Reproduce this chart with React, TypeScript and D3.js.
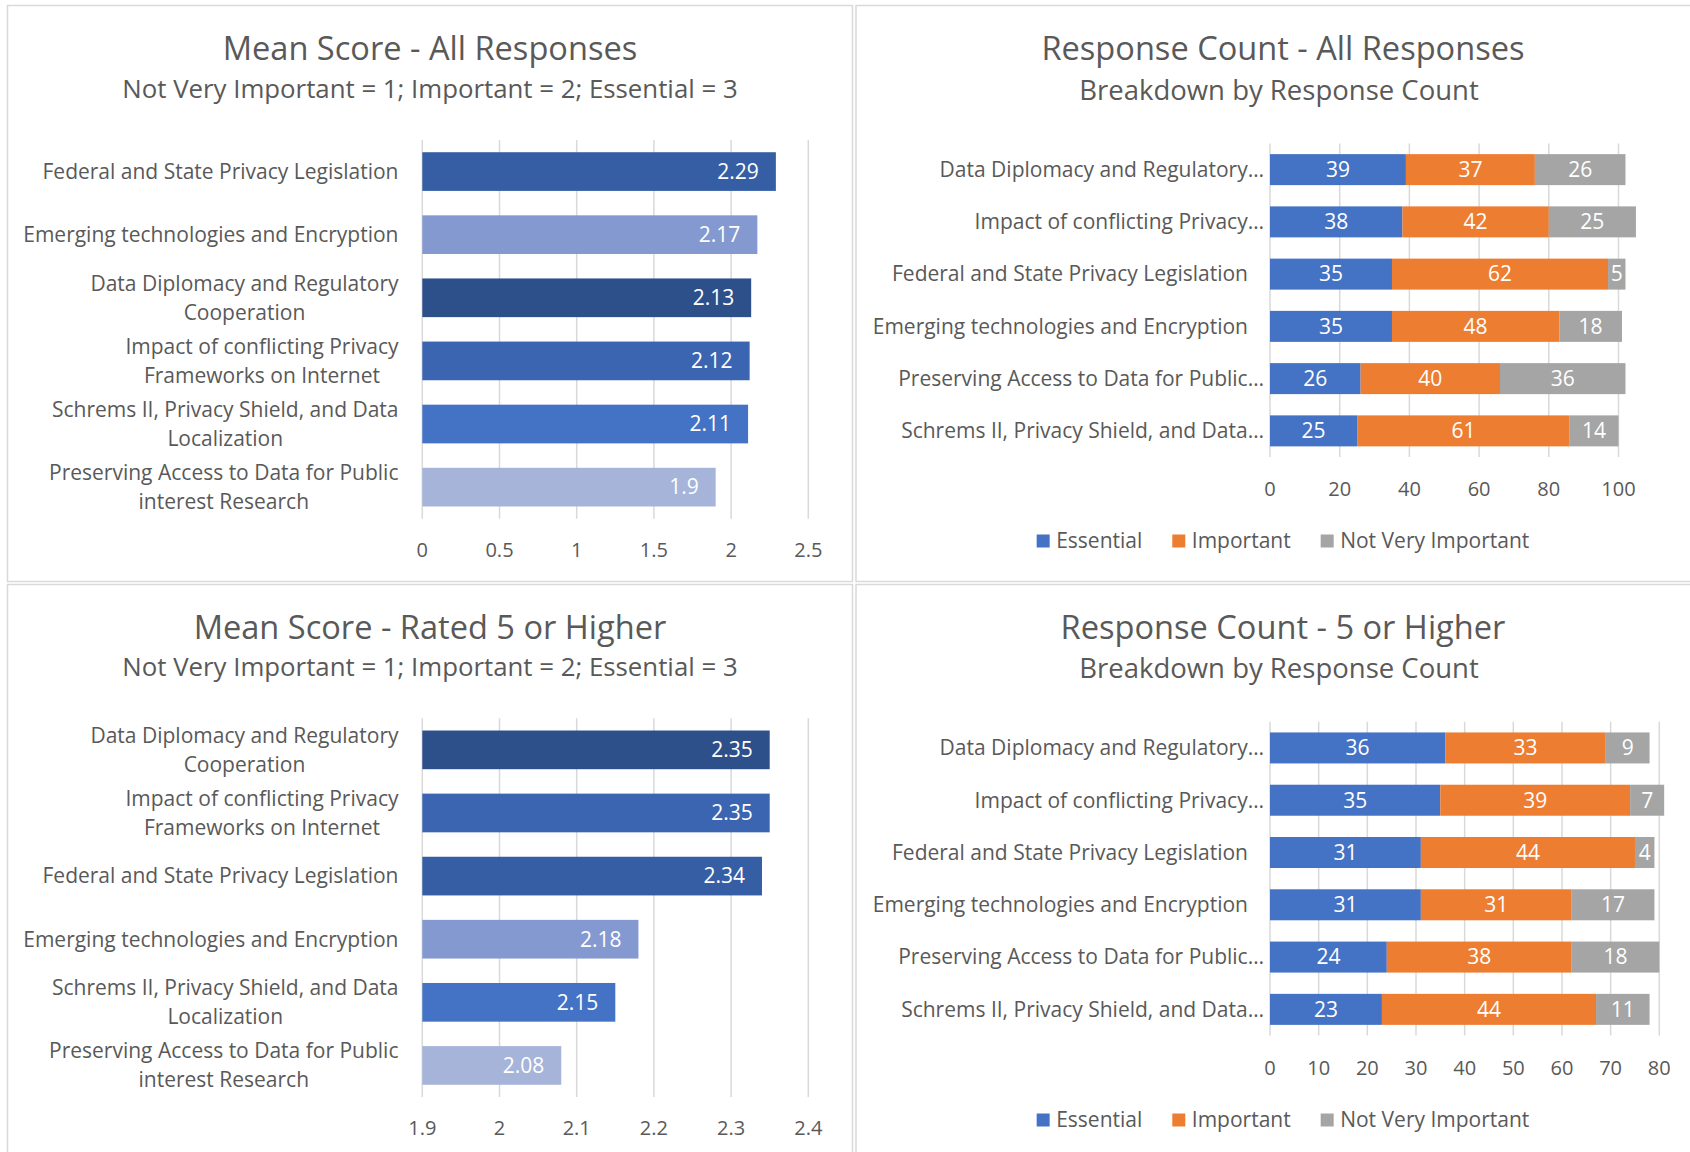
import React, { useEffect, useRef } from "react";
import * as d3 from "d3";

// ---------- DATA ----------
const meanAllCategories: string[][] = [
  ["Federal and State Privacy Legislation"],
  ["Emerging technologies and Encryption"],
  ["Data Diplomacy and Regulatory", "Cooperation"],
  ["Impact of conflicting Privacy", "Frameworks on Internet"],
  ["Schrems II, Privacy Shield, and Data", "Localization"],
  ["Preserving Access to Data for Public", "interest Research"],
];
const meanAllValues = [2.29, 2.17, 2.13, 2.12, 2.11, 1.9];
const meanAllTicks = [0, 0.5, 1, 1.5, 2, 2.5];

const meanHighCategories: string[][] = [
  ["Data Diplomacy and Regulatory", "Cooperation"],
  ["Impact of conflicting Privacy", "Frameworks on Internet"],
  ["Federal and State Privacy Legislation"],
  ["Emerging technologies and Encryption"],
  ["Schrems II, Privacy Shield, and Data", "Localization"],
  ["Preserving Access to Data for Public", "interest Research"],
];
const meanHighValues = [2.35, 2.35, 2.34, 2.18, 2.15, 2.08];
const meanHighTicks = [1.9, 2, 2.1, 2.2, 2.3, 2.4];

const countCategories = [
  "Data Diplomacy and Regulatory…",
  "Impact of conflicting Privacy…",
  "Federal and State Privacy Legislation",
  "Emerging technologies and Encryption",
  "Preserving Access to Data for Public…",
  "Schrems II, Privacy Shield, and Data…",
];
const seriesNames = ["Essential", "Important", "Not Very Important"];

const countAllEssential = [39, 38, 35, 35, 26, 25];
const countAllImportant = [37, 42, 62, 48, 40, 61];
const countAllNotVery = [26, 25, 5, 18, 36, 14];
const countAllTicks = [0, 20, 40, 60, 80, 100];

const countHighEssential = [36, 35, 31, 31, 24, 23];
const countHighImportant = [33, 39, 44, 31, 38, 44];
const countHighNotVery = [9, 7, 4, 17, 18, 11];
const countHighTicks = [0, 10, 20, 30, 40, 50, 60, 70, 80];

// ---------- STYLE ----------
const FONT = "'Open Sans', 'Segoe UI', sans-serif";
const TEXT = "#595959";
const GRID = "#d9d9d9";
const categoryColor: Record<string, string> = {
  "Federal and State Privacy Legislation": "#365ea4",
  "Emerging technologies and Encryption": "#8499cf",
  "Data Diplomacy and Regulatory": "#2e508a",
  "Impact of conflicting Privacy": "#3b65b1",
  "Schrems II, Privacy Shield, and Data": "#4472c4",
  "Preserving Access to Data for Public": "#a6b4da",
};
const seriesColors = ["#4472c4", "#ed7d31", "#a5a5a5"];

const TITLE_FS = 32.6;
const CAT_FS = 21;
const TICK_FS = 20;
const LABEL_FS = 21;
const LEGEND_FS = 21;

type Sel = d3.Selection<SVGGElement, unknown, null, undefined>;

function drawTitles(g: Sel, cx: number, ty: number, scx: number, sy: number, title: string, sub: string, subFs: number) {
  g.append("text").attr("x", cx).attr("y", ty).attr("dy", "0.35em").attr("text-anchor", "middle")
    .attr("font-size", TITLE_FS).attr("fill", TEXT).text(title);
  g.append("text").attr("x", scx).attr("y", sy).attr("dy", "0.35em").attr("text-anchor", "middle")
    .attr("font-size", subFs).attr("fill", TEXT).text(sub);
}

function drawMean(g: Sel, cfg: {
  cats: string[][]; values: number[]; domain: [number, number]; ticks: number[];
  x0: number; x1: number; y0: number; y1: number; labelRight: number; tickY: number;
}) {
  const x = d3.scaleLinear().domain(cfg.domain).range([cfg.x0, cfg.x1]);
  const idx = d3.range(cfg.values.length);
  const y = d3.scaleBand<number>().domain(idx).range([cfg.y0, cfg.y1]).paddingInner(0.387).paddingOuter(0.1935);

  g.selectAll("line.grid").data(cfg.ticks).join("line").attr("class", "grid")
    .attr("x1", (d) => x(d)).attr("x2", (d) => x(d)).attr("y1", cfg.y0).attr("y2", cfg.y1)
    .attr("stroke", GRID).attr("stroke-width", 1.5);

  g.selectAll("rect.bar").data(cfg.values).join("rect").attr("class", "bar")
    .attr("x", x(cfg.domain[0])).attr("y", (_d, i) => y(i)!)
    .attr("width", (d) => x(d) - x(cfg.domain[0])).attr("height", y.bandwidth())
    .attr("fill", (_d, i) => categoryColor[cfg.cats[i][0]]);

  g.selectAll("text.val").data(cfg.values).join("text").attr("class", "val")
    .attr("x", (d) => x(d) - 17).attr("y", (_d, i) => y(i)! + y.bandwidth() / 2).attr("dy", "0.35em")
    .attr("text-anchor", "end").attr("font-size", LABEL_FS).attr("fill", "#ffffff").text((d) => String(d));

  g.selectAll("text.tick").data(cfg.ticks).join("text").attr("class", "tick")
    .attr("x", (d) => x(d)).attr("y", cfg.tickY).attr("dy", "0.35em").attr("text-anchor", "middle")
    .attr("font-size", TICK_FS).attr("fill", TEXT).text((d) => String(d));

  const lineH = 29;
  cfg.cats.forEach((lines, i) => {
    const cy = y(i)! + y.bandwidth() / 2;
    const t = g.append("text").attr("font-size", CAT_FS).attr("fill", TEXT).attr("text-anchor", "middle");
    const spans = lines.map((ln, j) =>
      t.append("tspan").attr("y", cy + (j - (lines.length - 1) / 2) * lineH).attr("dy", "0.35em").text(ln)
    );
    const maxW = d3.max(spans, (s) => (s.node() as SVGTSpanElement).getComputedTextLength()) || 0;
    spans.forEach((s) => s.attr("x", cfg.labelRight - maxW / 2));
  });
}

function drawStacked(g: Sel, cfg: {
  ess: number[]; imp: number[]; nvi: number[]; domain: [number, number]; ticks: number[];
  x0: number; x1: number; y0: number; y1: number; tickY: number; legendY: number; legendCx: number;
}) {
  const rows = countCategories.map((c, i) => ({ cat: c, Essential: cfg.ess[i], Important: cfg.imp[i], "Not Very Important": cfg.nvi[i] }));
  const stack = d3.stack<any>().keys(seriesNames)(rows);
  const x = d3.scaleLinear().domain(cfg.domain).range([cfg.x0, cfg.x1]);
  const y = d3.scaleBand<string>().domain(countCategories).range([cfg.y0, cfg.y1]).paddingInner(0.407).paddingOuter(0.2035);

  g.selectAll("line.grid").data(cfg.ticks).join("line").attr("class", "grid")
    .attr("x1", (d) => x(d)).attr("x2", (d) => x(d)).attr("y1", cfg.y0).attr("y2", cfg.y1)
    .attr("stroke", GRID).attr("stroke-width", 1.5);

  stack.forEach((layer, si) => {
    const lg = g.append("g");
    lg.selectAll("rect").data(layer).join("rect")
      .attr("x", (d) => x(d[0])).attr("width", (d) => x(d[1]) - x(d[0]))
      .attr("y", (d) => y(d.data.cat)!).attr("height", y.bandwidth()).attr("fill", seriesColors[si]);
    lg.selectAll("text").data(layer).join("text")
      .attr("x", (d) => (x(d[0]) + x(d[1])) / 2).attr("y", (d) => y(d.data.cat)! + y.bandwidth() / 2)
      .attr("dy", "0.35em").attr("text-anchor", "middle").attr("font-size", LABEL_FS).attr("fill", "#ffffff")
      .text((d) => String(d[1] - d[0]));
  });

  g.selectAll("text.tick").data(cfg.ticks).join("text").attr("class", "tick")
    .attr("x", (d) => x(d)).attr("y", cfg.tickY).attr("dy", "0.35em").attr("text-anchor", "middle")
    .attr("font-size", TICK_FS).attr("fill", TEXT).text((d) => String(d));

  countCategories.forEach((c) => {
    const truncated = c.endsWith("…");
    g.append("text").attr("x", truncated ? cfg.x0 - 6 : cfg.x0 - 22)
      .attr("y", y(c)! + y.bandwidth() / 2).attr("dy", "0.35em").attr("text-anchor", "end")
      .attr("font-size", CAT_FS).attr("fill", TEXT).text(c);
  });

  // legend
  const leg = g.append("g");
  const sq = 13, gapT = 6.5, gapItem = 30;
  const items = seriesNames.map((n, i) => {
    const it = leg.append("g");
    it.append("rect").attr("width", sq).attr("height", sq).attr("y", cfg.legendY - sq / 2).attr("fill", seriesColors[i]);
    const t = it.append("text").attr("x", sq + gapT).attr("y", cfg.legendY).attr("dy", "0.35em")
      .attr("font-size", LEGEND_FS).attr("fill", TEXT).text(n);
    const w = sq + gapT + (t.node() as SVGTextElement).getComputedTextLength();
    return { it, w };
  });
  const total = d3.sum(items, (d) => d.w) + gapItem * (items.length - 1);
  let cx = cfg.legendCx - total / 2;
  items.forEach(({ it, w }) => {
    it.attr("transform", `translate(${cx},0)`);
    cx += w + gapItem;
  });
}

export default function App() {
  const ref = useRef<SVGSVGElement>(null);
  useEffect(() => {
    const svg = d3.select(ref.current!);
    svg.selectAll("*").remove();
    const root = svg.append("g").attr("font-family", FONT) as Sel;

    // panels
    const panels = [
      [7.5, 5.5, 845, 576],
      [856, 5.5, 900, 576],
      [7.5, 584.5, 845, 700],
      [856, 584.5, 900, 700],
    ];
    root.selectAll("rect.panel").data(panels).join("rect").attr("class", "panel")
      .attr("x", (d) => d[0]).attr("y", (d) => d[1]).attr("width", (d) => d[2]).attr("height", (d) => d[3])
      .attr("fill", "#ffffff").attr("stroke", GRID).attr("stroke-width", 1.5);

    const off = 578.3;

    const tl = root.append("g") as Sel;
    drawTitles(tl, 430, 49, 430, 89, "Mean Score - All Responses", "Not Very Important = 1; Important = 2; Essential = 3", 25.8);
    drawMean(tl, { cats: meanAllCategories, values: meanAllValues, domain: [0, 2.5], ticks: meanAllTicks,
      x0: 422.3, x1: 808.3, y0: 140, y1: 518.7, labelRight: 398.5, tickY: 550 });

    const bl = root.append("g") as Sel;
    drawTitles(bl, 430, 49 + off, 430, 89 + off, "Mean Score - Rated 5 or Higher", "Not Very Important = 1; Important = 2; Essential = 3", 25.8);
    drawMean(bl, { cats: meanHighCategories, values: meanHighValues, domain: [1.9, 2.4], ticks: meanHighTicks,
      x0: 422.3, x1: 808.3, y0: 140 + off, y1: 518.7 + off, labelRight: 398.5, tickY: 550 + off });

    const tr = root.append("g") as Sel;
    drawTitles(tr, 1283, 49, 1279, 90.5, "Response Count - All Responses", "Breakdown by Response Count", 27.5);
    drawStacked(tr, { ess: countAllEssential, imp: countAllImportant, nvi: countAllNotVery, domain: [0, 100], ticks: countAllTicks,
      x0: 1270, x1: 1618.5, y0: 143.5, y1: 457, tickY: 488.5, legendY: 541, legendCx: 1283 });

    const br = root.append("g") as Sel;
    drawTitles(br, 1283, 49 + off, 1279, 90.5 + off, "Response Count - 5 or Higher", "Breakdown by Response Count", 27.5);
    drawStacked(br, { ess: countHighEssential, imp: countHighImportant, nvi: countHighNotVery, domain: [0, 80], ticks: countHighTicks,
      x0: 1270, x1: 1659.3, y0: 721.8, y1: 1035.5, tickY: 1067.5, legendY: 1120, legendCx: 1283 });
  }, []);

  return (
    <svg ref={ref} width={1690} height={1152}
      style={{ position: "absolute", left: 0, top: 0, display: "block", background: "#ffffff" }} />
  );
}
